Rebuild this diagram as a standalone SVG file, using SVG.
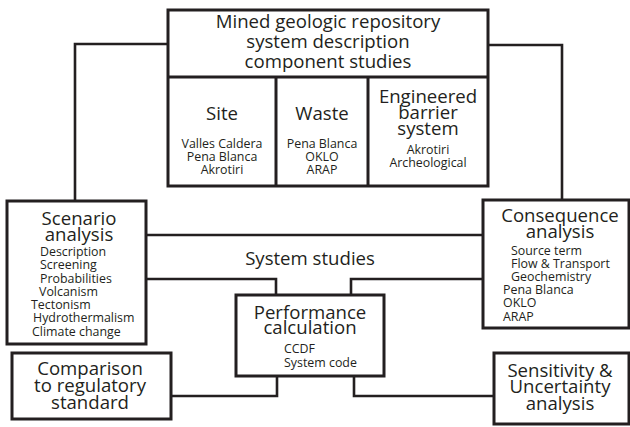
<svg xmlns="http://www.w3.org/2000/svg" width="630" height="427" viewBox="0 0 630 427">
<style>
.box{fill:#fff;stroke:#231f20;stroke-width:3}
.ln{fill:none;stroke:#231f20;stroke-width:2.6}
text{font-family:"Open Sans","Noto Sans","Liberation Sans",sans-serif;fill:#231f20}
.big{font-size:18.6px;text-anchor:middle}
.sm{font-size:12.4px}
.smc{font-size:12.4px;text-anchor:middle}
</style>
<g id="connectors">
<polyline class="ln" points="168,44 75,44 75,201"/>
<polyline class="ln" points="488,45 562,45 562,200"/>
<line class="ln" x1="146" y1="235" x2="483" y2="235"/>
<polyline class="ln" points="146,279 276,279 276,295"/>
<polyline class="ln" points="483,279 351,279 351,295"/>
<polyline class="ln" points="171,396 277,396 277,376"/>
<polyline class="ln" points="494,396 354,396 354,376"/>
</g>
<text class="big" x="310" y="265">System studies</text>
<g id="repository">
<rect class="box" x="168" y="10" width="320" height="176"/>
<line class="box" x1="168" y1="77" x2="488" y2="77"/>
<line class="box" x1="276" y1="77" x2="276" y2="186"/>
<line class="box" x1="368" y1="77" x2="368" y2="186"/>
<text class="big" x="328" y="28">Mined geologic repository</text>
<text class="big" x="328" y="48">system description</text>
<text class="big" x="328" y="68">component studies</text>
</g>
<g id="site">
<text class="big" x="222" y="120">Site</text>
<text class="smc" x="222" y="148">Valles Caldera</text>
<text class="smc" x="222" y="161">Pena Blanca</text>
<text class="smc" x="222" y="174">Akrotiri</text>
</g>
<g id="waste">
<text class="big" x="322" y="120">Waste</text>
<text class="smc" x="322" y="148">Pena Blanca</text>
<text class="smc" x="322" y="161">OKLO</text>
<text class="smc" x="322" y="174">ARAP</text>
</g>
<g id="ebs">
<text class="big" x="428" y="103">Engineered</text>
<text class="big" x="428" y="119">barrier</text>
<text class="big" x="428" y="135">system</text>
<text class="smc" x="428" y="154">Akrotiri</text>
<text class="smc" x="428" y="167">Archeological</text>
</g>
<g id="scenario">
<rect class="box" x="7" y="201" width="139" height="143"/>
<text class="big" x="79" y="225">Scenario</text>
<text class="big" x="79" y="241">analysis</text>
<text class="sm" x="40" y="256">Description</text>
<text class="sm" x="40" y="269">Screening</text>
<text class="sm" x="40" y="283">Probabilities</text>
<text class="sm" x="39" y="296">Volcanism</text>
<text class="sm" x="31" y="309">Tectonism</text>
<text class="sm" x="33" y="322">Hydrothermalism</text>
<text class="sm" x="32" y="336">Climate change</text>
</g>
<g id="consequence">
<rect class="box" x="483" y="200" width="146" height="128"/>
<text class="big" x="560" y="222">Consequence</text>
<text class="big" x="560" y="238">analysis</text>
<text class="sm" x="511" y="255">Source term</text>
<text class="sm" x="511" y="268">Flow &amp; Transport</text>
<text class="sm" x="511" y="281">Geochemistry</text>
<text class="sm" x="503" y="294">Pena Blanca</text>
<text class="sm" x="503" y="307">OKLO</text>
<text class="sm" x="503" y="321">ARAP</text>
</g>
<g id="performance">
<rect class="box" x="236" y="295" width="148" height="81"/>
<text class="big" x="310" y="319">Performance</text>
<text class="big" x="310" y="334">calculation</text>
<text class="sm" x="284" y="353">CCDF</text>
<text class="sm" x="284" y="367">System code</text>
</g>
<g id="comparison">
<rect class="box" x="12" y="353" width="159" height="66"/>
<text class="big" x="90" y="375">Comparison</text>
<text class="big" x="90" y="392">to regulatory</text>
<text class="big" x="90" y="409">standard</text>
</g>
<g id="sensitivity">
<rect class="box" x="494" y="353" width="135" height="71"/>
<text class="big" x="560" y="377">Sensitivity &amp;</text>
<text class="big" x="560" y="393">Uncertainty</text>
<text class="big" x="560" y="410">analysis</text>
</g>
</svg>
